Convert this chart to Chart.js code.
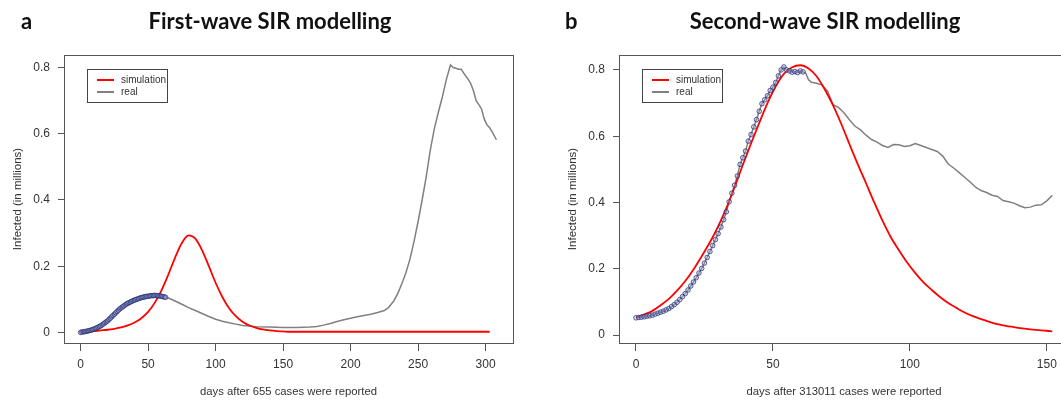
<!DOCTYPE html>
<html>
<head>
<meta charset="utf-8">
<script src="https://cdn.jsdelivr.net/npm/chart.js@4.4.1/dist/chart.umd.min.js"></script>
<style>
  html, body { margin: 0; padding: 0; background: #fff; overflow: hidden; }
  #wrap { position: relative; width: 1061px; height: 403px; overflow: hidden; }
  canvas { position: absolute; top: 0; }
  #firstWave { left: 0; }
  #secondWave { left: 530px; }
</style>
</head>
<body>
<div id="wrap">
  <canvas id="firstWave" width="530" height="403"></canvas>
  <canvas id="secondWave" width="545" height="403"></canvas>
</div>
<script>
// ---- first wave (panel a) ----
const firstSimDays = [0, 5, 10, 15, 20, 25, 30, 35, 40, 45, 50, 55, 60, 65, 70, 75, 80, 85, 90, 95, 100,
  105, 110, 115, 120, 125, 130, 135, 140, 145, 150, 155, 160, 303];
const firstSim = [0.001, 0.002, 0.004, 0.006, 0.008, 0.011, 0.015, 0.021, 0.030, 0.043, 0.062, 0.090, 0.128,
  0.175, 0.226, 0.270, 0.293, 0.283, 0.248, 0.200, 0.150, 0.107, 0.073, 0.049, 0.032, 0.021, 0.014, 0.009,
  0.006, 0.004, 0.003, 0.002, 0.002, 0.002];

const firstRealDays = [0, 1, 2, 3, 4, 5, 6, 7, 8, 9, 10, 11, 12, 13, 14, 15, 16, 17, 18, 19, 20, 21, 22, 23,
  24, 25, 26, 27, 28, 29, 30, 31, 32, 33, 34, 35, 36, 37, 38, 39, 40, 41, 42, 43, 44, 45, 46, 47, 48, 49, 50,
  51, 52, 53, 54, 55, 56, 57, 58, 59, 60, 61, 62, 63,
  65, 70, 75, 80, 85, 90, 95, 100, 105, 110, 115, 120, 125, 130,
  140, 150, 160, 170, 175, 180, 185, 190, 195, 200, 205, 210, 215, 220, 225,
  228, 232, 235, 238, 241, 244, 247, 250, 253, 256, 259, 262, 265, 268, 271, 274,
  276, 278, 280, 282, 284, 287, 289, 291, 293, 295, 297, 299, 301, 303, 305, 308];
const firstReal = [0.000, 0.001, 0.002, 0.002, 0.003, 0.004, 0.005, 0.006, 0.007, 0.009, 0.010, 0.012, 0.014,
  0.016, 0.018, 0.020, 0.023, 0.026, 0.029, 0.032, 0.035, 0.039, 0.043, 0.047, 0.051, 0.055, 0.059, 0.063,
  0.067, 0.071, 0.074, 0.077, 0.080, 0.083, 0.086, 0.088, 0.090, 0.092, 0.094, 0.096, 0.098, 0.099, 0.101,
  0.102, 0.104, 0.105, 0.106, 0.107, 0.108, 0.109, 0.109, 0.110, 0.111, 0.111, 0.111, 0.112, 0.111, 0.111,
  0.110, 0.110, 0.109, 0.108, 0.107, 0.106,
  0.104, 0.095, 0.085, 0.075, 0.066, 0.057, 0.048, 0.040, 0.034, 0.029, 0.025, 0.021, 0.019, 0.017,
  0.016, 0.015, 0.015, 0.016, 0.018, 0.022, 0.027, 0.033, 0.038, 0.043, 0.047, 0.051, 0.055, 0.060, 0.066,
  0.075, 0.095, 0.118, 0.148, 0.180, 0.222, 0.275, 0.335, 0.400, 0.470, 0.550, 0.615, 0.665, 0.712, 0.765, 0.808,
  0.800, 0.798, 0.795, 0.795, 0.782, 0.765, 0.752, 0.730, 0.700, 0.688, 0.675, 0.645, 0.627, 0.618, 0.605, 0.582];
const firstFitCount = 64; // days fitted by the model, drawn as circles

// ---- second wave (panel b) ----
const secondSimDays = [0, 3, 6, 9, 12, 15, 18, 21, 24, 27, 30, 33, 36, 39, 42, 45, 48, 51, 54, 57, 60, 63, 66,
  69, 72, 75, 78, 81, 84, 87, 90, 93, 96, 99, 102, 105, 108, 111, 114, 117, 120, 123, 126, 129, 132, 135,
  138, 141, 144, 147, 150, 152];
const secondSim = [0.053, 0.062, 0.073, 0.090, 0.109, 0.134, 0.163, 0.198, 0.238, 0.280, 0.328, 0.383, 0.446,
  0.513, 0.578, 0.640, 0.700, 0.750, 0.788, 0.808, 0.814, 0.804, 0.780, 0.740, 0.692, 0.636, 0.575, 0.515,
  0.458, 0.400, 0.345, 0.296, 0.256, 0.219, 0.187, 0.159, 0.136, 0.115, 0.097, 0.082, 0.068, 0.057, 0.048,
  0.040, 0.033, 0.028, 0.024, 0.020, 0.017, 0.015, 0.013, 0.011];

const secondRealDays = [0, 1, 2, 3, 4, 5, 6, 7, 8, 9, 10, 11, 12, 13, 14, 15, 16, 17, 18, 19, 20, 21, 22, 23,
  24, 25, 26, 27, 28, 29, 30, 31, 32, 33, 34, 35, 36, 37, 38, 39, 40, 41, 42, 43, 44, 45, 46, 47, 48, 49, 50,
  51, 52, 53, 54, 55, 56, 57, 58, 59, 60, 61,
  62, 63, 64, 66, 68, 70, 72, 74, 76, 78, 80, 82, 84, 86, 88, 90, 92, 94, 96, 98, 100, 102, 104, 106, 108,
  110, 112, 114, 116, 118, 120, 122, 124, 126, 128, 130, 132, 134, 136, 138, 140, 142, 144, 146, 148, 150, 152];
const secondReal = [0.052, 0.053, 0.054, 0.055, 0.057, 0.058, 0.060, 0.063, 0.066, 0.069, 0.072, 0.076, 0.080,
  0.086, 0.092, 0.099, 0.107, 0.116, 0.125, 0.136, 0.148, 0.160, 0.173, 0.187, 0.201, 0.217, 0.234, 0.252,
  0.270, 0.288, 0.306, 0.326, 0.348, 0.372, 0.402, 0.428, 0.452, 0.480, 0.515, 0.535, 0.555, 0.585, 0.605,
  0.628, 0.650, 0.675, 0.698, 0.710, 0.722, 0.738, 0.748, 0.762, 0.782, 0.800, 0.809, 0.800, 0.797, 0.793,
  0.795, 0.792, 0.797, 0.794,
  0.790, 0.770, 0.763, 0.760, 0.754, 0.735, 0.695, 0.686, 0.670, 0.649, 0.630, 0.619, 0.603, 0.590, 0.582,
  0.572, 0.566, 0.575, 0.574, 0.569, 0.571, 0.578, 0.572, 0.566, 0.560, 0.554, 0.540, 0.516, 0.504, 0.490,
  0.476, 0.462, 0.446, 0.436, 0.430, 0.422, 0.418, 0.406, 0.402, 0.398, 0.390, 0.384, 0.386, 0.392, 0.393,
  0.405, 0.422];
const secondFitCount = 62;

const yTicks = [0, 0.2, 0.4, 0.6, 0.8];
const legendLabels = ['simulation', 'real'];

const SIM_COLOR = '#ff0000';
const REAL_COLOR = '#808080';
const TEXT_COLOR = '#333';
const FONT = '"Liberation Sans", Arial, sans-serif';

function toPoints(days, values) {
  return days.map((d, i) => ({ x: d, y: values[i] }));
}

// box round the plot, legend and the bold panel title
const panelFrame = {
  id: 'panelFrame',
  afterDraw(chart, args, opts) {
    const { ctx, chartArea: a } = chart;
    ctx.save();
    ctx.strokeStyle = '#555';
    ctx.lineWidth = 1;
    ctx.strokeRect(Math.round(a.left) + 0.5, Math.round(a.top) + 0.5, a.right - a.left, a.bottom - a.top);

    // legend
    const lx = a.left + 23, ly = a.top + 14;
    ctx.fillStyle = '#fff';
    ctx.fillRect(lx, ly, 80, 33);
    ctx.strokeStyle = '#444';
    ctx.strokeRect(Math.round(lx) + 0.5, Math.round(ly) + 0.5, 80, 33);
    const colors = [SIM_COLOR, REAL_COLOR];
    ctx.font = '10px ' + FONT;
    ctx.textBaseline = 'middle';
    ctx.textAlign = 'left';
    legendLabels.forEach((label, i) => {
      const y = ly + 11 + i * 12;
      ctx.strokeStyle = colors[i];
      ctx.lineWidth = 2;
      ctx.beginPath();
      ctx.moveTo(lx + 10, y);
      ctx.lineTo(lx + 27, y);
      ctx.stroke();
      ctx.fillStyle = TEXT_COLOR;
      ctx.fillText(label, lx + 34, y);
    });

    // heading
    ctx.fillStyle = '#111';
    ctx.font = 'bold 22px Lato, "Open Sans", sans-serif';
    ctx.textBaseline = 'alphabetic';
    ctx.textAlign = 'left';
    ctx.fillText(opts.letter, opts.letterX, 29);
    ctx.textAlign = 'center';
    ctx.fillText(opts.title, opts.titleX, 29);
    ctx.restore();
  }
};

function makeChart(id, cfg) {
  const ctx = document.getElementById(id).getContext('2d');
  return new Chart(ctx, {
    type: 'line',
    data: {
      datasets: [
        {
          label: 'fitted',
          data: toPoints(cfg.realDays.slice(0, cfg.fitCount), cfg.real.slice(0, cfg.fitCount)),
          showLine: false,
          pointRadius: 2.3,
          pointBorderWidth: 1,
          pointBorderColor: 'rgba(35, 45, 120, 0.75)',
          pointBackgroundColor: 'rgba(170, 180, 215, 0.35)',
          order: 0
        },
        {
          label: legendLabels[0],
          data: toPoints(cfg.simDays, cfg.sim),
          borderColor: SIM_COLOR,
          borderWidth: 1.8,
          pointRadius: 0,
          cubicInterpolationMode: 'monotone',
          order: 1
        },
        {
          label: legendLabels[1],
          data: toPoints(cfg.realDays, cfg.real),
          borderColor: REAL_COLOR,
          borderWidth: 1.5,
          pointRadius: 0,
          tension: 0,
          order: 2
        }
      ]
    },
    options: {
      responsive: false,
      animation: false,
      devicePixelRatio: 1,
      layout: { padding: { top: 55, right: cfg.padRight, left: 0, bottom: 0 } },
      plugins: {
        legend: { display: false },
        tooltip: { enabled: false },
        panelFrame: { letter: cfg.letter, letterX: cfg.letterX, title: cfg.title, titleX: cfg.titleX }
      },
      scales: {
        x: {
          type: 'linear',
          min: cfg.xMin,
          max: cfg.xMax,
          border: { display: false },
          grid: { drawOnChartArea: false, tickLength: 8, tickColor: '#555' },
          ticks: {
            stepSize: 50,
            includeBounds: false,
            maxRotation: 0,
            padding: 6,
            color: TEXT_COLOR,
            font: { size: 12, family: FONT }
          },
          title: {
            display: true,
            text: cfg.xTitle,
            color: TEXT_COLOR,
            font: { size: 11.3, family: FONT },
            padding: { top: 0, bottom: 4 }
          },
          afterFit: s => { s.height = 60; }
        },
        y: {
          type: 'linear',
          min: cfg.yMin,
          max: cfg.yMax,
          border: { display: false },
          grid: { drawOnChartArea: false, tickLength: 6, tickColor: '#555' },
          afterBuildTicks: s => { s.ticks = yTicks.map(v => ({ value: v })); },
          ticks: {
            padding: 8,
            color: TEXT_COLOR,
            font: { size: 12, family: FONT },
            callback: v => String(+v.toFixed(1))
          },
          title: {
            display: true,
            text: 'Infected (in millions)',
            color: TEXT_COLOR,
            font: { size: 11.5, family: FONT },
            padding: { top: cfg.yTitlePad, bottom: 0 }
          },
          afterFit: s => { s.width = cfg.yWidth; }
        }
      }
    },
    plugins: [panelFrame]
  });
}

makeChart('firstWave', {
  simDays: firstSimDays, sim: firstSim,
  realDays: firstRealDays, real: firstReal, fitCount: firstFitCount,
  xMin: -12.3, xMax: 320.3, yMin: -0.032, yMax: 0.838,
  yWidth: 64, yTitlePad: 11, padRight: 17,
  xTitle: 'days after 655 cases were reported',
  letter: 'a', letterX: 21, title: 'First-wave SIR modelling', titleX: 270
});

makeChart('secondWave', {
  simDays: secondSimDays, sim: secondSim,
  realDays: secondRealDays, real: secondReal, fitCount: secondFitCount,
  xMin: -6.2, xMax: 158.1, yMin: -0.024, yMax: 0.845,
  yWidth: 89, yTitlePad: 36, padRight: 6,
  xTitle: 'days after 313011 cases were reported',
  letter: 'b', letterX: 35, title: 'Second-wave SIR modelling', titleX: 295
});
</script>
</body>
</html>
